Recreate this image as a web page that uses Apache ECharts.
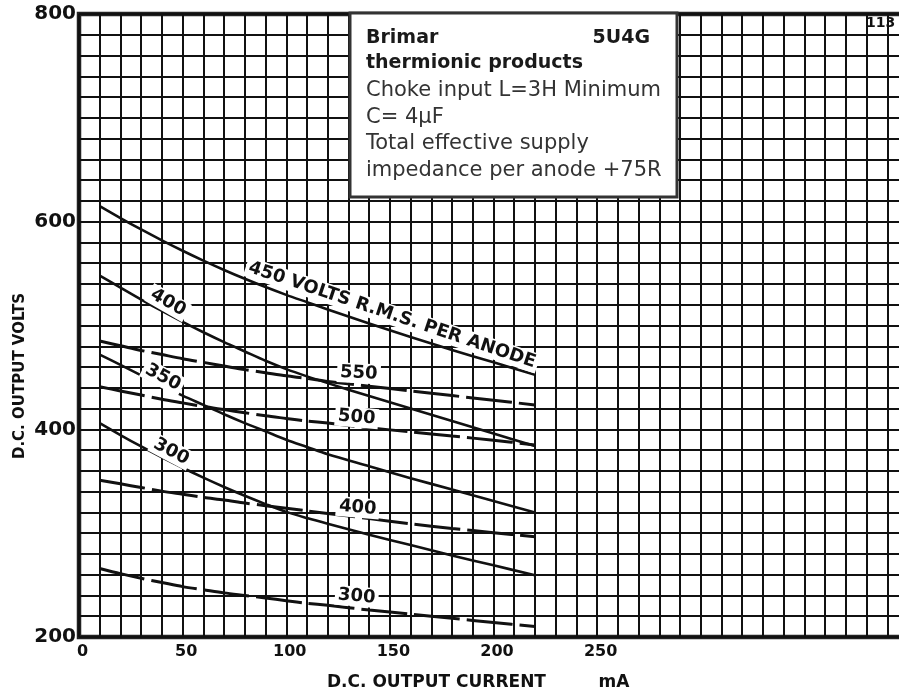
<!DOCTYPE html>
<html>
<head>
<meta charset="utf-8">
<title>5U4G</title>
<script src="https://cdn.jsdelivr.net/npm/echarts@6/dist/echarts.min.js"></script>
<style>
  html, body { margin: 0; padding: 0; background: #fff; overflow: hidden; }
  /* grid runs past the right edge of the window, as on the sheet */
  #chart { width: 911px; height: 695px; }
</style>
</head>
<body>
<div id="chart"></div>
<script>
// mA
var currents = [10, 20, 30, 40, 50, 60, 70, 80, 90, 100, 110, 120, 140, 160, 180, 200, 220]

// solid curves (volts rms per anode)
var solid450 = [615, 603.5, 592.5, 582, 572, 562.5, 553.5, 545, 537, 529.5, 522.5, 515.5, 502, 489, 476.5, 464.5, 452.5]
var solid400 = [548, 536.5, 525, 514, 503.5, 493.5, 484, 475, 466, 458, 451, 444.5, 432, 420, 408, 396, 384]
var solid350 = [472, 462, 452, 442, 432.5, 423.5, 414.5, 406, 398, 390, 383, 376, 364.5, 353, 342, 331, 320]
var solid300 = [406, 394.5, 383.5, 373, 363, 353.5, 344.5, 336, 328, 320.5, 314.5, 309, 298.5, 288.5, 278.5, 269, 259.5]

// dashed curves
var dash550 = [485, 480.5, 476, 472, 468, 464.5, 461, 457.5, 454.5, 451.5, 449, 446, 441.5, 437, 432.5, 428, 423.5]
var dash500 = [441, 437, 433, 429, 425.5, 422, 419, 416, 413, 410.5, 408, 406, 401.5, 397.5, 393.5, 389.5, 385]
var dash400 = [351, 347.5, 344, 340.5, 337.5, 334.5, 332, 329, 326.5, 324, 321.5, 319, 314, 309, 304.5, 300.5, 296.5]
var dash300 = [266, 261, 256.5, 252.5, 248.5, 245.5, 242.5, 240, 237.5, 235, 232.5, 230.5, 226, 222, 218, 214, 210]

var xTickLabels = [0, 50, 100, 150, 200, 250]
var yTickLabels = [200, 400, 600, 800]

// curve labels, anchored in data units [mA, V]
var curveLabels = [
  { text: '450 VOLTS R.M.S. PER ANODE', at: [151, 510], rot: 18.5, size: 18 },
  { text: '400', at: [43, 522], rot: 30, size: 18 },
  { text: '350', at: [40.5, 450], rot: 28, size: 18 },
  { text: '300', at: [44.5, 378.5], rot: 28, size: 18 },
  { text: '550', at: [135, 454], rot: 3, size: 18 },
  { text: '500', at: [134, 411.5], rot: 5, size: 18 },
  { text: '400', at: [134.5, 324.5], rot: 5, size: 18 },
  { text: '300', at: [134, 239], rot: 5, size: 18 }
]

var boxLines = [
  'Choke input L=3H Minimum',
  'C= 4\u03bcF',
  'Total effective supply',
  'impedance per anode +75R'
]

function pairs(ys) {
  return currents.map(function (c, i) { return [c, ys[i]] })
}

function curve(name, ys, dashed) {
  return {
    name: name,
    type: 'line',
    data: pairs(ys),
    showSymbol: false,
    smooth: 0.3,
    silent: true,
    z: 5,
    lineStyle: {
      color: '#111',
      width: dashed ? 3 : 2.6,
      type: dashed ? [46, 7] : 'solid'
    }
  }
}

var chartDom = document.getElementById('chart')
var myChart = echarts.init(chartDom)
var font = 'DejaVu Sans'

var option = {
  animation: false,
  backgroundColor: '#fff',
  grid: {
    left: 79,
    top: 14,
    right: 0,
    bottom: 58,
    show: true,
    borderColor: '#222',
    borderWidth: 4.5
  },
  xAxis: {
    type: 'value',
    min: 0,
    max: 400,
    interval: 10,
    axisLine: { show: false },
    axisTick: { show: false },
    axisLabel: {
      margin: 7,
      padding: [0, 0, 0, 7],
      color: '#111',
      fontFamily: font,
      fontWeight: 'bold',
      fontSize: 16,
      formatter: function (v) {
        return xTickLabels.indexOf(v) >= 0 ? String(v) : ''
      }
    },
    splitLine: { show: true, lineStyle: { color: '#111', width: 2 } }
  },
  yAxis: {
    type: 'value',
    min: 200,
    max: 800,
    interval: 20,
    axisLine: { show: false },
    axisTick: { show: false },
    axisLabel: {
      margin: 3,
      color: '#111',
      fontFamily: font,
      fontWeight: 'bold',
      fontSize: 20,
      formatter: function (v) {
        return yTickLabels.indexOf(v) >= 0 ? String(v) : ''
      }
    },
    splitLine: { show: true, lineStyle: { color: '#111', width: 2 } }
  },
  series: [
    curve('450', solid450, false),
    curve('400', solid400, false),
    curve('350', solid350, false),
    curve('300', solid300, false),
    curve('550 choke', dash550, true),
    curve('500 choke', dash500, true),
    curve('400 choke', dash400, true),
    curve('300 choke', dash300, true)
  ]
}

myChart.setOption(option)

// annotations: curve labels, info box, axis titles
var graphics = []

curveLabels.forEach(function (lb) {
  var p = myChart.convertToPixel({ gridIndex: 0 }, lb.at)
  graphics.push({
    type: 'text',
    x: p[0],
    y: p[1],
    rotation: -lb.rot * Math.PI / 180,
    z: 20,
    style: {
      text: lb.text,
      x: 0,
      y: 0,
      align: 'center',
      verticalAlign: 'middle',
      font: 'bold ' + lb.size + 'px "' + font + '"',
      fill: '#111',
      backgroundColor: '#fff',
      padding: [1, 3]
    }
  })
})

graphics.push({
  type: 'rect',
  z: 30,
  shape: { x: 350, y: 13, width: 327, height: 184 },
  style: { fill: '#fff', stroke: '#333', lineWidth: 3 }
})
graphics.push({
  type: 'text', z: 31, x: 366, y: 38,
  style: { text: 'Brimar', font: 'bold 19px "' + font + '"', fill: '#1a1a1a', verticalAlign: 'middle' }
})
graphics.push({
  type: 'text', z: 31, x: 650, y: 38,
  style: { text: '5U4G', font: 'bold 19px "' + font + '"', fill: '#1a1a1a', align: 'right', verticalAlign: 'middle' }
})
graphics.push({
  type: 'text', z: 31, x: 366, y: 63,
  style: { text: 'thermionic products', font: 'bold 19px "' + font + '"', fill: '#1a1a1a', verticalAlign: 'middle' }
})
boxLines.forEach(function (t, i) {
  graphics.push({
    type: 'text', z: 31, x: 366, y: 90.5 + i * 26.7,
    style: { text: t, font: '21px "' + font + '"', fill: '#333', verticalAlign: 'middle' }
  })
})

graphics.push({
  type: 'text', z: 31, x: 20, y: 376, rotation: Math.PI / 2,
  style: { text: 'D.C. OUTPUT VOLTS', font: 'bold 15px "' + font + '"', fill: '#111', align: 'center', verticalAlign: 'middle' }
})
graphics.push({
  type: 'text', z: 31, x: 327, y: 683,
  style: { text: 'D.C. OUTPUT CURRENT', font: 'bold 17px "' + font + '"', fill: '#111', verticalAlign: 'middle' }
})
graphics.push({
  type: 'text', z: 31, x: 614, y: 683,
  style: { text: 'mA', font: 'bold 17px "' + font + '"', fill: '#111', align: 'center', verticalAlign: 'middle' }
})
graphics.push({
  type: 'text', z: 31, x: 866, y: 23,
  style: { text: '113', font: 'bold 14px "' + font + '"', fill: '#111', verticalAlign: 'middle' }
})

myChart.setOption({ graphic: graphics })
</script>
</body>
</html>
